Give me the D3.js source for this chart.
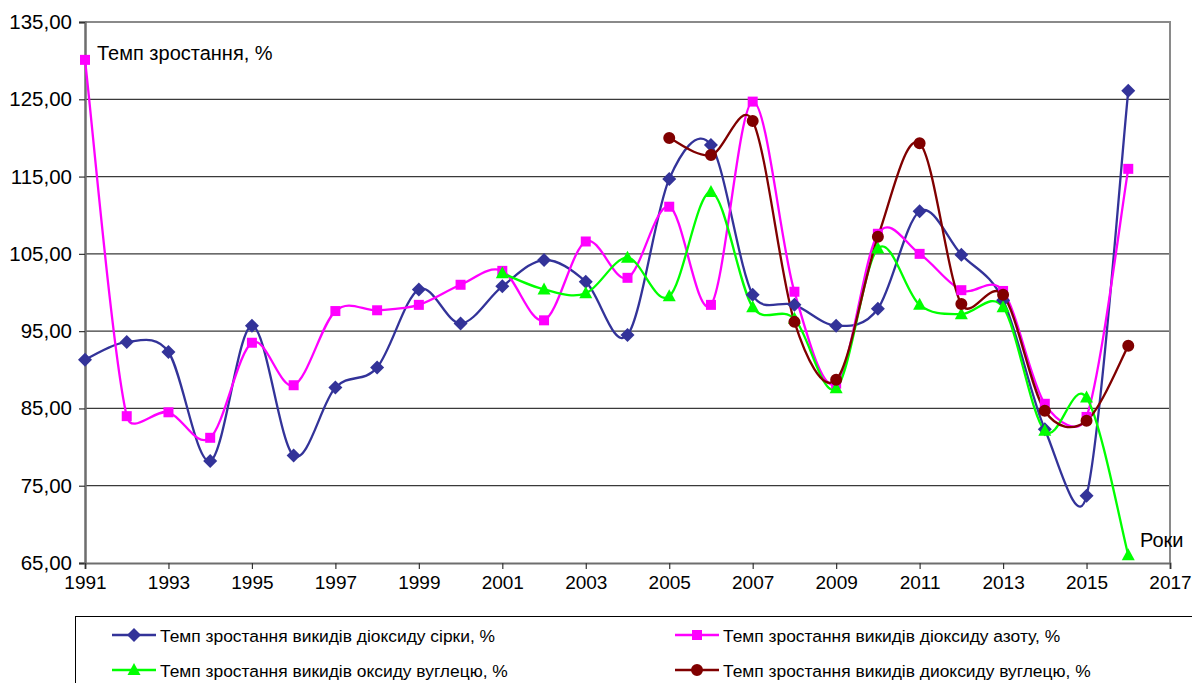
<!DOCTYPE html>
<html>
<head>
<meta charset="utf-8">
<script src="https://cdn.jsdelivr.net/npm/d3@7"></script>
<style>
  html, body { margin: 0; padding: 0; background: #fff; }
  svg { display: block; font-family: "Liberation Sans", Arial, sans-serif; }
</style>
</head>
<body>
<svg id="chart" width="1192" height="683"></svg>
<script>
// Years on the horizontal axis and growth rates (%) for each pollutant
const years = d3.range(1991, 2017);
const sulfurDioxide = [91.3, 93.6, 92.3, 78.2, 95.7, 78.9, 87.7, 90.3, 100.4, 96.0,
  100.8, 104.2, 101.4, 94.5, 114.7, 119.1, 99.7, 98.4, 95.7, 97.9,
  110.5, 104.9, 99.0, 82.3, 73.7, 126.1];
const nitrogenDioxide = [130.1, 84.0, 84.5, 81.2, 93.5, 88.0, 97.6, 97.7, 98.4, 101.0,
  102.8, 96.4, 106.6, 101.9, 111.1, 98.4, 124.7, 100.1, 88.2, 107.6,
  105.0, 100.3, 100.2, 85.6, 83.9, 116.0];
const coYears = d3.range(2001, 2017);
const carbonMonoxide = [102.5, 100.4, 99.9, 104.5, 99.5, 113.0, 98.1, 96.6, 87.6, 105.7,
  98.4, 97.2, 98.1, 82.1, 86.4, 66.0];
const co2Years = d3.range(2005, 2017);
const carbonDioxide = [120.0, 117.8, 122.2, 96.2, 88.7, 107.2, 119.3, 98.5, 99.7, 84.7, 83.4, 93.1];

const yTicks = d3.range(65, 136, 10);
const xTicks = d3.range(1991, 2018, 2);

const seriesNames = [
  "Темп зростання викидів діоксиду сірки, %",
  "Темп зростання викидів діоксиду азоту, %",
  "Темп зростання викидів оксиду вуглецю, %",
  "Темп зростання викидів диоксиду вуглецю, %"
];

const series = [
  { name: seriesNames[0], xs: years, ys: sulfurDioxide, color: "#333399", marker: "diamond" },
  { name: seriesNames[1], xs: years, ys: nitrogenDioxide, color: "#ff00ff", marker: "square" },
  { name: seriesNames[2], xs: coYears, ys: carbonMonoxide, color: "#00ff00", marker: "triangle" },
  { name: seriesNames[3], xs: co2Years, ys: carbonDioxide, color: "#800000", marker: "circle" }
];

const FONT = "Liberation Sans, Arial, sans-serif";
const svg = d3.select("#chart");
svg.append("rect").attr("width", 1192).attr("height", 683).attr("fill", "#fff");

const plot = { left: 85, right: 1170, top: 22, bottom: 563 };
const x = d3.scaleLinear().domain([1991, 2017]).range([plot.left, plot.right]);
const y = d3.scaleLinear().domain([65, 135]).range([plot.bottom, plot.top]);

const locale = d3.formatLocale({ decimal: ",", thousands: " ", grouping: [3], currency: ["", ""] });
const fmt = locale.format(".2f");

// Horizontal gridlines
svg.append("g")
  .selectAll("line")
  .data(yTicks.filter(v => v > 65 && v < 135))
  .join("line")
  .attr("x1", plot.left).attr("x2", plot.right)
  .attr("y1", d => y(d)).attr("y2", d => y(d))
  .attr("stroke", "#3a3a3a").attr("stroke-width", 1.2);

// Plot frame (top and right)
svg.append("path")
  .attr("d", `M${plot.left},${plot.top}H${plot.right}V${plot.bottom}`)
  .attr("fill", "none").attr("stroke", "#8a8a8a").attr("stroke-width", 2);

// Y axis
const yAxis = svg.append("g")
  .attr("transform", `translate(${plot.left},0)`)
  .call(d3.axisLeft(y).tickValues(yTicks).tickFormat(fmt).tickSize(6).tickPadding(7));
yAxis.select(".domain").attr("stroke", "#6e6e6e").attr("stroke-width", 2.5);
yAxis.selectAll(".tick line").attr("stroke", "#333").attr("stroke-width", 1.2);
yAxis.selectAll(".tick text")
  .attr("font-size", 20.5).attr("fill", "#000").attr("font-family", FONT);

// X axis
const xAxis = svg.append("g")
  .attr("transform", `translate(0,${plot.bottom})`)
  .call(d3.axisBottom(x).tickValues(xTicks).tickFormat(d3.format("d")).tickSize(6).tickPadding(7));
xAxis.select(".domain").attr("stroke", "#6e6e6e").attr("stroke-width", 2);
xAxis.selectAll(".tick line").attr("stroke", "#333").attr("stroke-width", 1.2);
xAxis.selectAll(".tick text")
  .attr("font-size", 19).attr("fill", "#000").attr("font-family", FONT);

// Marker shapes
function markerPath(type) {
  switch (type) {
    case "diamond": return "M0,-7L7,0L0,7L-7,0Z";
    case "square": return "M-5,-5H5V5H-5Z";
    case "triangle": return "M0,-7L6.5,5H-6.5Z";
    default: return d3.symbol(d3.symbolCircle, 113)();
  }
}

// Smoothed line: cubic Bezier segments whose tangents follow the neighbouring
// points (1/6 of the chord), shortened to at most half of the adjacent segment
// so that the curve does not overshoot much next to short segments.
function smoothPath(pts) {
  const n = pts.length;
  const path = d3.path();
  if (!n) return "";
  const tan = pts.map((p, i) => {
    const a = pts[Math.max(0, i - 1)], b = pts[Math.min(n - 1, i + 1)];
    return [(b[0] - a[0]) / 6, (b[1] - a[1]) / 6];
  });
  const dist = (p, q) => Math.hypot(q[0] - p[0], q[1] - p[1]);
  const scaled = (t, limit) => {
    const len = Math.hypot(t[0], t[1]);
    const k = len > limit && len > 0 ? limit / len : 1;
    return [t[0] * k, t[1] * k];
  };
  path.moveTo(pts[0][0], pts[0][1]);
  for (let i = 0; i < n - 1; i++) {
    const p1 = pts[i], p2 = pts[i + 1];
    const d = dist(p1, p2);
    const t1 = scaled(tan[i], d / 2), t2 = scaled(tan[i + 1], d / 2);
    path.bezierCurveTo(p1[0] + t1[0], p1[1] + t1[1], p2[0] - t2[0], p2[1] - t2[1], p2[0], p2[1]);
  }
  return path.toString();
}

const lines = svg.append("g");
series.forEach(s => {
  const pts = s.xs.map((yr, i) => [x(yr), y(s.ys[i])]);
  lines.append("path")
    .attr("d", smoothPath(pts))
    .attr("fill", "none")
    .attr("stroke", s.color)
    .attr("stroke-width", 2.3);
});
series.forEach(s => {
  const pts = s.xs.map((yr, i) => [yr, s.ys[i]]);
  lines.append("g").selectAll("path")
    .data(pts)
    .join("path")
    .attr("transform", d => `translate(${x(d[0])},${y(d[1])})`)
    .attr("d", markerPath(s.marker))
    .attr("fill", s.color);
});

// Axis captions
svg.append("text").attr("x", 97).attr("y", 60)
  .attr("font-size", 20).attr("fill", "#000").attr("font-family", FONT).text("Темп зростання, %");
svg.append("text").attr("x", 1140).attr("y", 547)
  .attr("font-size", 20).attr("fill", "#000").attr("font-family", FONT).text("Роки");

// Legend
svg.append("rect")
  .attr("x", 75.5).attr("y", 616.5).attr("width", 1200).attr("height", 100)
  .attr("fill", "#fff").attr("stroke", "#000").attr("stroke-width", 1);

const legendPos = [
  { x: 112, y: 635 }, { x: 675, y: 635 },
  { x: 112, y: 670 }, { x: 675, y: 670 }
];
series.forEach((s, i) => {
  const p = legendPos[i];
  const g = svg.append("g").attr("transform", `translate(${p.x},${p.y})`);
  g.append("line").attr("x1", 0).attr("x2", 44).attr("y1", 0).attr("y2", 0)
    .attr("stroke", s.color).attr("stroke-width", 2.3);
  g.append("path").attr("transform", "translate(22,0)").attr("d", markerPath(s.marker)).attr("fill", s.color);
  g.append("text").attr("x", 48).attr("y", 6.5)
    .attr("font-size", 17.4).attr("fill", "#000").attr("font-family", FONT).text(s.name);
});
</script>
</body>
</html>
